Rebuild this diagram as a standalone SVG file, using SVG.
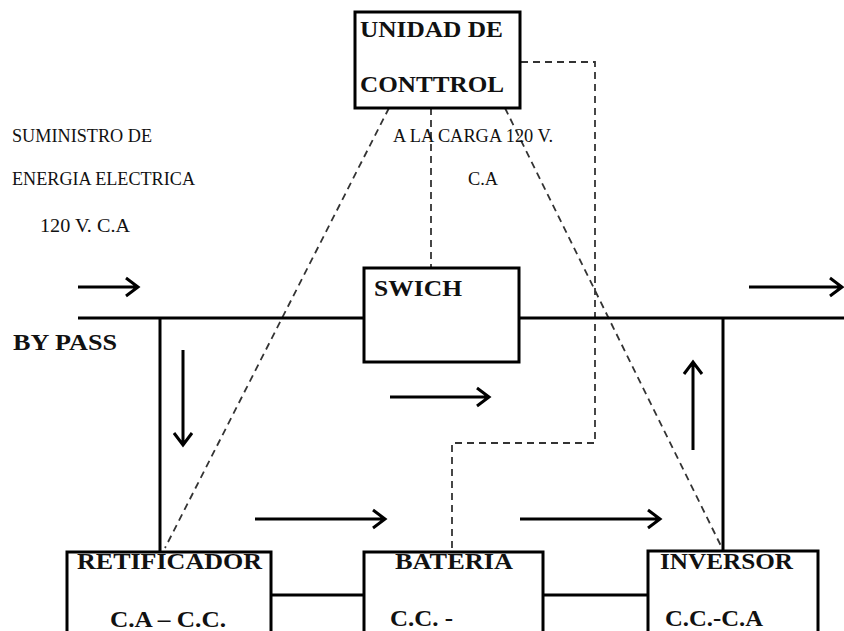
<svg xmlns="http://www.w3.org/2000/svg" width="844" height="631" viewBox="0 0 844 631">
<style>
.box{fill:#fff;stroke:#000;stroke-width:3}
.ln{fill:none;stroke:#000;stroke-width:3}
.arr{fill:none;stroke:#000;stroke-width:3;stroke-linecap:butt;stroke-linejoin:miter}
.dash{fill:none;stroke:#333;stroke-width:1.8;stroke-dasharray:7 5}
.lbl{font-family:"Liberation Serif","Times New Roman",serif;font-weight:bold;font-size:24px;fill:#111}
.sm{font-family:"Liberation Serif","Times New Roman",serif;font-size:18px;fill:#111}
</style>
<rect width="844" height="631" fill="#fff"/>
<g id="connectors">
<line class="dash" x1="389" y1="108" x2="165" y2="548"/>
<line class="dash" x1="505" y1="108" x2="722" y2="548"/>
<line class="dash" x1="431" y1="108" x2="431" y2="268"/>
<polyline class="dash" points="521,62 595,62 595,443 452,443 452,551"/>
<line class="ln" x1="78" y1="318" x2="364" y2="318"/>
<line class="ln" x1="519" y1="318" x2="844" y2="318"/>
<line class="ln" x1="160" y1="318" x2="160" y2="552"/>
<line class="ln" x1="723" y1="318" x2="723" y2="551"/>
<line class="ln" x1="271" y1="595" x2="364" y2="595"/>
<line class="ln" x1="543" y1="595" x2="648" y2="595"/>
<path class="arr" d="M78 287H137M126 278L138 287L126 296"/>
<path class="arr" d="M749 287H842M830 278L842 287L830 296"/>
<path class="arr" d="M183 350V445M174 433L183 445L192 433"/>
<path class="arr" d="M693 450V362M684 374L693 362L702 374"/>
<path class="arr" d="M390 397H489M477 388L489 397L477 406"/>
<path class="arr" d="M255 519H385M373 510L385 519L373 528"/>
<path class="arr" d="M520 519H660M648 510L660 519L648 528"/>
</g>
<g id="control">
<rect class="box" x="355" y="12" width="165" height="96"/>
<text class="lbl" x="360" y="37" textLength="143" lengthAdjust="spacingAndGlyphs">UNIDAD DE</text>
<text class="lbl" x="360" y="92" textLength="144" lengthAdjust="spacingAndGlyphs">CONTTROL</text>
</g>
<g id="swich">
<rect class="box" x="364" y="268" width="155" height="94"/>
<text class="lbl" x="374" y="296" textLength="88" lengthAdjust="spacingAndGlyphs">SWICH</text>
</g>
<g id="retificador">
<rect class="box" x="67" y="552" width="204" height="90"/>
<text class="lbl" x="77" y="569" textLength="185" lengthAdjust="spacingAndGlyphs">RETIFICADOR</text>
<text class="lbl" x="110" y="627" textLength="116" lengthAdjust="spacingAndGlyphs">C.A – C.C.</text>
</g>
<g id="bateria">
<rect class="box" x="364" y="552" width="179" height="90"/>
<text class="lbl" x="395" y="569" textLength="118" lengthAdjust="spacingAndGlyphs">BATERIA</text>
<text class="lbl" x="390" y="626" textLength="63" lengthAdjust="spacingAndGlyphs">C.C. -</text>
</g>
<g id="inversor">
<rect class="box" x="648" y="551" width="170" height="90"/>
<text class="lbl" x="660" y="569" textLength="133" lengthAdjust="spacingAndGlyphs">INVERSOR</text>
<text class="lbl" x="665" y="626" textLength="98" lengthAdjust="spacingAndGlyphs">C.C.-C.A</text>
</g>
<g id="labels">
<text class="sm" x="12" y="142" textLength="140" lengthAdjust="spacingAndGlyphs">SUMINISTRO DE</text>
<text class="sm" x="12" y="185" textLength="183" lengthAdjust="spacingAndGlyphs">ENERGIA ELECTRICA</text>
<text class="sm" x="40" y="232" textLength="90" lengthAdjust="spacingAndGlyphs">120  V. C.A</text>
<text class="sm" x="393" y="142" textLength="160" lengthAdjust="spacingAndGlyphs">A LA CARGA 120 V.</text>
<text class="sm" x="468" y="185" textLength="30" lengthAdjust="spacingAndGlyphs">C.A</text>
<text class="lbl" x="13" y="350" textLength="104" lengthAdjust="spacingAndGlyphs">BY PASS</text>
</g>
</svg>
